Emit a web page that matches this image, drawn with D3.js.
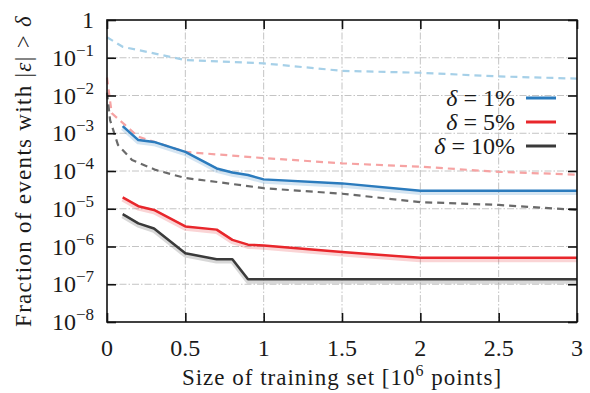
<!DOCTYPE html>
<html><head><meta charset="utf-8">
<script src="https://cdn.jsdelivr.net/npm/d3@7"></script>
<style>body{margin:0;background:#fff}svg{display:block}text{font-family:"Liberation Serif","DejaVu Serif",serif;fill:#1a1a1a}</style>
</head><body><svg id="c" width="590" height="393"></svg>
<script>
const xTicks=[0,0.5,1,1.5,2,2.5,3];
const xTickLabels=["0","0.5","1","1.5","2","2.5","3"];
const yTicks=[1,1e-1,1e-2,1e-3,1e-4,1e-5,1e-6,1e-7,1e-8];
const yTickExp=["","−1","−2","−3","−4","−5","−6","−7","−8"];
const legendLabels=["δ = 1%","δ = 5%","δ = 10%"];

const refBlueX=[0,0.1,0.5,1,1.5,2,2.5,3];
const refBlueY=[0.35,0.195,0.087,0.071,0.045,0.040,0.032,0.028];
const refRedX=[0,0.03,0.115,0.2,0.5,1,1.5,2,2.5,3];
const refRedY=[0.03,3.4e-3,1.66e-3,8.1e-4,3.2e-4,2.2e-4,1.6e-4,1.3e-4,9.5e-5,8e-5];
const refGrayX=[0,0.02,0.07,0.16,0.31,0.5,0.69,1,1.5,2,2.5,3];
const refGrayY=[1.2e-2,2.2e-3,4.9e-4,1.95e-4,1.07e-4,6.5e-5,5.2e-5,3.5e-5,2.5e-5,1.5e-5,1.26e-5,9.3e-6];

const d1X=[0.1,0.2,0.3,0.5,0.6,0.7,0.8,0.9,1.0,1.5,2,2.5,3];
const d1Y=[1.55e-3,6.6e-4,5.9e-4,3.2e-4,1.95e-4,1.17e-4,9.1e-5,7.8e-5,6.0e-5,4.7e-5,3.0e-5,3.0e-5,3.0e-5];
const d5X=[0.1,0.2,0.3,0.5,0.7,0.8,0.9,1.0,1.5,2,2.5,3];
const d5Y=[2.0e-5,1.17e-5,9.3e-6,3.4e-6,2.8e-6,1.5e-6,1.12e-6,1.07e-6,7.1e-7,5.0e-7,5.0e-7,5.0e-7];
const d10X=[0.1,0.2,0.3,0.5,0.7,0.8,0.9,1,1.5,2,2.5,3];
const d10Y=[7.2e-6,4.1e-6,3.0e-6,6.6e-7,4.6e-7,4.6e-7,1.35e-7,1.35e-7,1.35e-7,1.35e-7,1.35e-7,1.35e-7];

const svg=d3.select("#c");
const m={l:107,t:20,r:13,b:71};
const W=590-m.l-m.r,H=393-m.t-m.b;
const x=d3.scaleLinear().domain([0,3]).range([m.l,m.l+W]);
const y=d3.scaleLog().domain([1e-8,1]).range([m.t+H,m.t]);

function fit(sel,target){
  const n=sel.node(); const len=n.getComputedTextLength(); const chars=n.textContent.length;
  sel.attr("letter-spacing",((target-len)/chars).toFixed(2));
}

// grid
const g=svg.append("g");
g.selectAll(".gx").data(xTicks.slice(1,-1)).join("line")
 .attr("x1",d=>x(d)).attr("x2",d=>x(d)).attr("y1",m.t).attr("y2",m.t+H)
 .attr("stroke","#c4c4c4").attr("stroke-width",1).attr("stroke-dasharray","7,2,1.5,2");
g.selectAll(".gy").data(yTicks.slice(1,-1)).join("line")
 .attr("y1",d=>y(d)).attr("y2",d=>y(d)).attr("x1",m.l).attr("x2",m.l+W)
 .attr("stroke","#c4c4c4").attr("stroke-width",1).attr("stroke-dasharray","7,2,1.5,2");

function series(X,Y,color,opts){
  const pts=X.map((v,i)=>[v,Y[i]]);
  const line=d3.line().x(d=>x(d[0])).y(d=>y(d[1])).curve(d3.curveLinear);
  if(opts.halo){
    svg.append("path").attr("d",line(pts)).attr("fill","none").attr("stroke",color)
     .attr("stroke-opacity",0.2).attr("stroke-width",5).attr("stroke-linejoin","round").attr("transform","translate(0,1.8)");
  }
  svg.append("path").attr("d",line(pts)).attr("fill","none").attr("stroke",color)
   .attr("stroke-width",opts.w).attr("stroke-dasharray",opts.dash||null).attr("stroke-linejoin","round").attr("stroke-linecap","butt");
}
series(refBlueX,refBlueY,"#a6d0e8",{w:2.2,dash:"7,5"});
series(refRedX,refRedY,"#f6a3a3",{w:2.2,dash:"7,5"});
series(refGrayX,refGrayY,"#6a6a6a",{w:2.2,dash:"7,5"});
series(d1X,d1Y,"#2b7bbd",{w:2.5,halo:true});
series(d5X,d5Y,"#e8262b",{w:2.5,halo:true});
series(d10X,d10Y,"#3a3a3a",{w:2.5,halo:true});

// frame
svg.append("rect").attr("x",m.l).attr("y",m.t).attr("width",W).attr("height",H)
 .attr("fill","none").attr("stroke","#111").attr("stroke-width",1.6);

// axes with inward ticks
const ax=svg.append("g").attr("transform",`translate(0,${m.t+H})`)
 .call(d3.axisBottom(x).tickValues(xTicks).tickSize(-9).tickFormat(""));
const axT=svg.append("g").attr("transform",`translate(0,${m.t})`)
 .call(d3.axisTop(x).tickValues(xTicks).tickSize(-9).tickFormat(""));
const ay=svg.append("g").attr("transform",`translate(${m.l},0)`)
 .call(d3.axisLeft(y).tickValues(yTicks).tickSize(-9).tickFormat(""));
const ayR=svg.append("g").attr("transform",`translate(${m.l+W},0)`)
 .call(d3.axisRight(y).tickValues(yTicks).tickSize(-9).tickFormat(""));
[ax,axT,ay,ayR].forEach(a=>{a.select(".domain").remove();a.selectAll(".tick line").attr("stroke","#111").attr("stroke-width",1.6);});

// x tick labels
svg.append("g").selectAll("text").data(xTicks).join("text")
 .attr("x",d=>x(d)).attr("y",356).attr("text-anchor","middle").attr("font-size",24)
 .text((d,i)=>xTickLabels[i]);

// y tick labels
const yl=svg.append("g");
yTicks.forEach((d,i)=>{
  const t=yl.append("text").attr("x",94).attr("y",y(d)+8).attr("text-anchor","end").attr("font-size",24);
  if(i===0){t.text("1");}
  else{t.append("tspan").text("10");t.append("tspan").attr("dy",-10).attr("font-size",17).text(yTickExp[i]);}
});

// axis titles
const xt=svg.append("text").attr("x",(m.l+m.l+W)/2).attr("y",385).attr("text-anchor","middle").attr("font-size",23);
xt.append("tspan").text("Size of training set [10");
xt.append("tspan").attr("dy",-9).attr("font-size",16).text("6");
xt.append("tspan").attr("dy",9).text(" points]");
fit(xt,320);
const yt=svg.append("text").attr("transform",`translate(31,${(m.t+m.t+H)/2}) rotate(-90)`).attr("text-anchor","middle").attr("font-size",23);
yt.append("tspan").text("Fraction of events with |");
yt.append("tspan").attr("font-style","italic").text("ε");
yt.append("tspan").text("| > ");
yt.append("tspan").attr("font-style","italic").text("δ");
fit(yt,312);

// legend
const lc=["#2b7bbd","#e8262b","#3a3a3a"];
const ly=[98,122,146];
legendLabels.forEach((s,i)=>{
  const t=svg.append("text").attr("x",515).attr("y",ly[i]+8).attr("text-anchor","end").attr("font-size",24);
  t.append("tspan").attr("font-style","italic").text("δ");
  t.append("tspan").text(" = ");
  t.append("tspan").text(s.slice(4));
  svg.append("line").attr("x1",526).attr("x2",556).attr("y1",ly[i]).attr("y2",ly[i]).attr("stroke",lc[i]).attr("stroke-width",3);
});
</script></body></html>
